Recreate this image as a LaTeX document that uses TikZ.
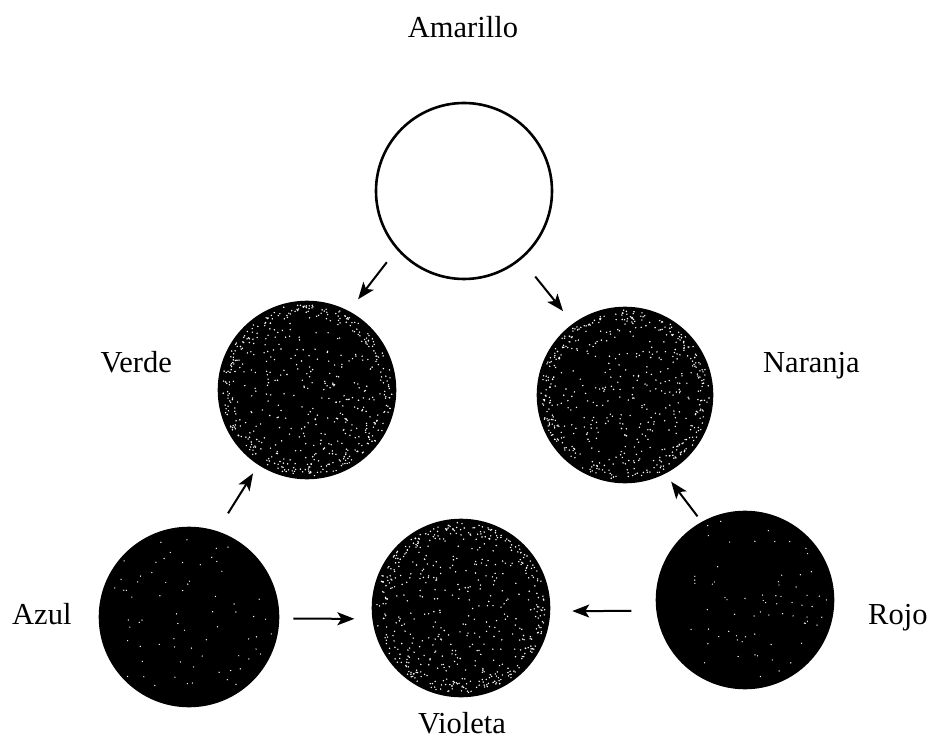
\documentclass[tikz,border=0pt]{standalone}
\usepackage{fontspec}
\setmainfont{Liberation Serif}
\usetikzlibrary{arrows.meta,calc}
\begin{document}
\begin{tikzpicture}[x=1pt,y=-1pt,
  lbl/.style={inner sep=0pt,font=\fontsize{30.5}{36}\selectfont},
  disc/.style={circle,inner sep=0pt,line width=2.6pt,draw=black},
  mixd/.style={disc,fill=black},
  prim/.style={disc,fill=black},
  speck/.style={fill=white},
  arr/.style={line width=2pt,-{Stealth[length=17pt,width=13pt,inset=4pt]}}]
\useasboundingbox (0,0) rectangle (932,738);
% circles
\node[disc,fill=white,minimum size=176pt] (amarillo) at (464,191) {};
\node[mixd,minimum size=176pt] (verde) at (307,390) {};
\node[mixd,minimum size=174pt] (naranja) at (625,395) {};
\node[prim,minimum size=178pt] (azul) at (189,617) {};
\node[mixd,minimum size=176pt] (violeta) at (461,608) {};
\node[prim,minimum size=176pt] (rojo) at (745,600) {};
% speckled texture of the filled discs
\pgfmathsetseed{4711}
\foreach \c/\r in {verde/86,naranja/85,violeta/86}{
  \foreach \i in {1,...,320}{
    \pgfmathsetmacro\ang{rnd*360}
    \pgfmathsetmacro\rad{\r*sqrt(rnd)}
    \fill[speck] ($(\c.center)+(\ang:\rad pt)$) circle (0.8pt);
  }
  \foreach \i in {1,...,220}{
    \pgfmathsetmacro\ang{rnd*360}
    \pgfmathsetmacro\rad{\r*(0.86+0.13*rnd)}
    \fill[speck] ($(\c.center)+(\ang:\rad pt)$) circle (0.8pt);
  }
}
\foreach \c/\r in {azul/86,rojo/85}{
  \foreach \i in {1,...,70}{
    \pgfmathsetmacro\ang{rnd*360}
    \pgfmathsetmacro\rad{\r*sqrt(rnd)}
    \fill[speck] ($(\c.center)+(\ang:\rad pt)$) circle (0.7pt);
  }
}
% labels
\node[lbl,anchor=base] (tam) at (463,38) {Amarillo};
\node[lbl,anchor=base east] (tve) at (172,372) {Verde};
\node[lbl,anchor=base west] (tna) at (763,372) {Naranja};
\node[lbl,anchor=base west] (taz) at (12,624) {Azul};
\node[lbl,anchor=base west] (tro) at (868,624) {Rojo};
\node[lbl,anchor=base] (tvi) at (462,733) {Violeta};
% arrows
\draw[arr,shorten <=16pt,shorten >=15pt] (amarillo.221) -- (verde.62);
\draw[arr,shorten <=22pt,shorten >=16pt] (amarillo.310) -- (naranja.126);
\draw[arr,shorten <=21pt,shorten >=10pt] (azul.72.6) -- (verde.237);
\draw[arr,shorten <=14pt,shorten >=18pt] (azul.-1.3) -- (violeta.187.2);
\draw[arr,shorten <=25pt,shorten >=22pt] (rojo.187.8) -- (violeta.-2.6);
\draw[arr,shorten <=7pt,shorten >=10pt] (rojo.119) -- (naranja.297.4);
\end{tikzpicture}
\end{document}
